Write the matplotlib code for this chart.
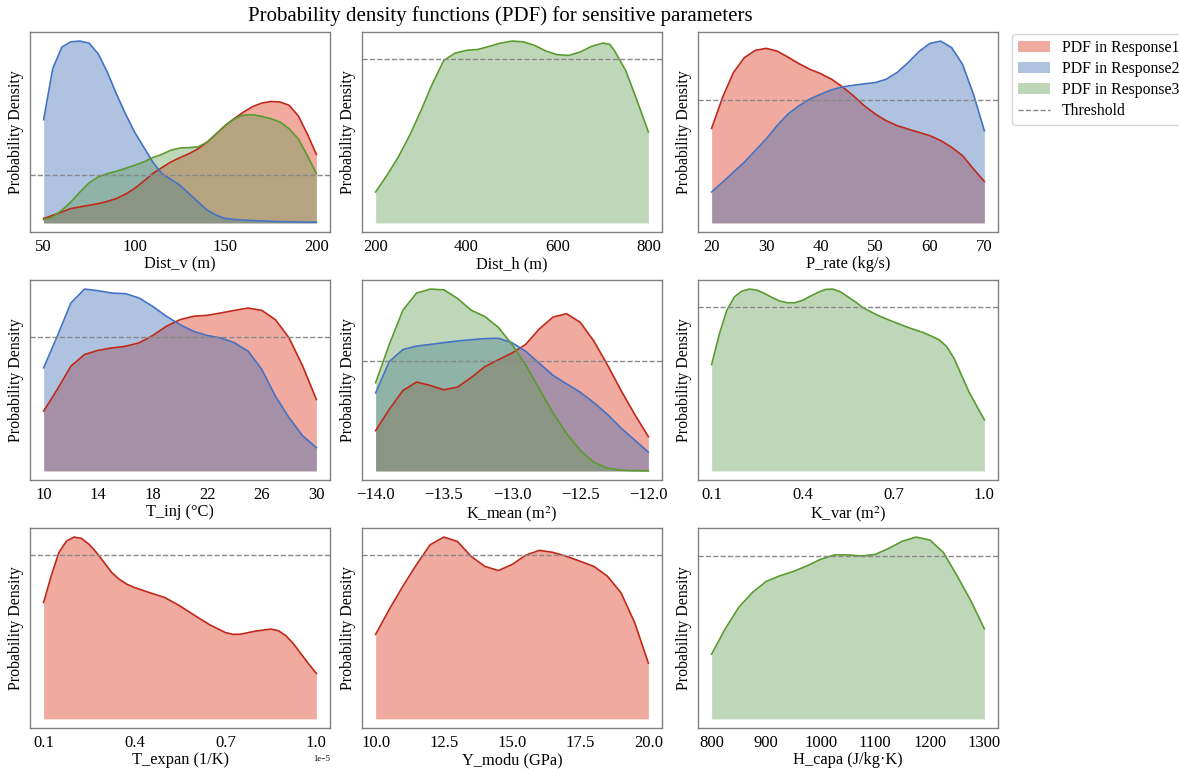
import numpy as np
import matplotlib
matplotlib.use("Agg")
import matplotlib.pyplot as plt
from matplotlib.patches import Patch
from matplotlib.lines import Line2D

plt.rcParams['font.family'] = ['Liberation Serif', 'DejaVu Serif']
plt.rcParams['mathtext.fontset'] = 'stix'

# ---- data (densities scaled so the highest curve of each panel is ~1) ----
dist_v_x = [50, 55, 60, 65, 70, 75, 80, 85, 90, 95, 100, 105, 110, 115, 120, 125,
            130, 135, 140, 145, 150, 155, 160, 165, 170, 175, 180, 185, 190, 195, 200]
dist_v_r1 = [0.024, 0.042, 0.06, 0.079, 0.088, 0.097, 0.106, 0.118, 0.134, 0.158, 0.189, 0.229,
             0.271, 0.304, 0.335, 0.359, 0.381, 0.408, 0.445, 0.49, 0.537, 0.575, 0.61, 0.64,
             0.659, 0.668, 0.665, 0.647, 0.59, 0.49, 0.377]
dist_v_r2 = [0.568, 0.848, 0.967, 0.996, 1.0, 0.989, 0.93, 0.83, 0.71, 0.60, 0.50, 0.418,
             0.335, 0.271, 0.24, 0.207, 0.161, 0.115, 0.07, 0.042, 0.024, 0.019, 0.015, 0.013,
             0.011, 0.009, 0.007, 0.006, 0.005, 0.004, 0.004]
dist_v_r3 = [0.018, 0.033, 0.07, 0.115, 0.17, 0.22, 0.253, 0.271, 0.284, 0.3, 0.317, 0.335,
             0.359, 0.377, 0.4, 0.412, 0.414, 0.418, 0.445, 0.49, 0.537, 0.573, 0.593, 0.595,
             0.586, 0.573, 0.555, 0.518, 0.463, 0.372, 0.271]

dist_h_x = [200, 225, 250, 275, 300, 325, 350, 375, 400, 425, 450, 475, 500, 525, 550,
            575, 600, 625, 650, 675, 700, 715, 725, 750, 775, 800]
dist_h_r3 = [0.17, 0.262, 0.363, 0.482, 0.619, 0.766, 0.894, 0.934, 0.949, 0.954, 0.971, 0.989,
             1.0, 0.996, 0.976, 0.945, 0.925, 0.921, 0.94, 0.971, 0.989, 0.982, 0.949, 0.839,
             0.674, 0.5]

p_rate_x = [20, 22, 24, 26, 28, 30, 32, 34, 36, 38, 40, 42, 44, 46, 48, 50, 52, 54, 56, 58,
            60, 62, 64, 66, 68, 70]
p_rate_r1 = [0.52, 0.69, 0.827, 0.909, 0.949, 0.96, 0.945, 0.912, 0.876, 0.845, 0.821, 0.79,
             0.748, 0.699, 0.644, 0.599, 0.562, 0.535, 0.516, 0.498, 0.48, 0.453, 0.416, 0.37,
             0.297, 0.228]
p_rate_r2 = [0.17, 0.224, 0.279, 0.334, 0.398, 0.462, 0.535, 0.599, 0.644, 0.681, 0.708, 0.732,
             0.748, 0.757, 0.765, 0.772, 0.79, 0.827, 0.881, 0.942, 0.987, 1.0, 0.964, 0.872,
             0.708, 0.507]

t_inj_x = [10, 11, 12, 13, 14, 15, 16, 17, 18, 19, 20, 21, 22, 23, 24, 25, 26, 27, 28, 29, 30]
t_inj_r1 = [0.328, 0.447, 0.575, 0.639, 0.662, 0.675, 0.684, 0.703, 0.743, 0.794, 0.83, 0.849,
            0.854, 0.867, 0.881, 0.894, 0.881, 0.83, 0.73, 0.575, 0.392]
t_inj_r2 = [0.566, 0.739, 0.922, 0.998, 0.989, 0.976, 0.973, 0.949, 0.903, 0.849, 0.803, 0.766,
            0.743, 0.73, 0.703, 0.657, 0.557, 0.41, 0.292, 0.192, 0.128]

k_mean_x = [-14.0, -13.9, -13.8, -13.7, -13.6, -13.5, -13.4, -13.3, -13.2, -13.1, -13.0,
            -12.9, -12.8, -12.7, -12.6, -12.5, -12.4, -12.3, -12.2, -12.1, -12.0]
k_mean_r1 = [0.221, 0.338, 0.441, 0.488, 0.469, 0.445, 0.46, 0.512, 0.572, 0.61, 0.647, 0.694,
             0.779, 0.844, 0.863, 0.816, 0.713, 0.582, 0.441, 0.31, 0.188]
k_mean_r2 = [0.428, 0.6, 0.666, 0.685, 0.694, 0.704, 0.713, 0.72, 0.726, 0.728, 0.704, 0.657,
             0.591, 0.525, 0.478, 0.432, 0.375, 0.31, 0.235, 0.169, 0.103]
k_mean_r3 = [0.484, 0.694, 0.882, 0.976, 0.998, 0.994, 0.947, 0.882, 0.848, 0.788, 0.694, 0.582,
             0.45, 0.319, 0.206, 0.113, 0.047, 0.015, 0.004, 0.001, 0.0]

k_var_x = [0.1, 0.125, 0.15, 0.175, 0.2, 0.225, 0.25, 0.275, 0.3, 0.325, 0.35, 0.375, 0.4,
           0.425, 0.45, 0.475, 0.5, 0.525, 0.55, 0.575, 0.6, 0.65, 0.7, 0.75, 0.8, 0.85,
           0.875, 0.9, 0.925, 0.95, 0.975, 1.0]
k_var_r3 = [0.585, 0.75, 0.882, 0.957, 0.989, 1.0, 0.994, 0.976, 0.953, 0.934, 0.925, 0.925,
            0.938, 0.96, 0.981, 0.998, 1.0, 0.985, 0.957, 0.929, 0.897, 0.854, 0.82, 0.788,
            0.76, 0.722, 0.685, 0.619, 0.525, 0.432, 0.356, 0.281]

t_expan_x = [0.1, 0.125, 0.15, 0.175, 0.2, 0.225, 0.25, 0.275, 0.3, 0.325, 0.35, 0.375, 0.4,
             0.45, 0.5, 0.55, 0.6, 0.65, 0.7, 0.725, 0.75, 0.8, 0.85, 0.875, 0.9, 0.925,
             0.95, 0.975, 1.0]
t_expan_r1 = [0.639, 0.785, 0.912, 0.976, 0.998, 0.991, 0.958, 0.912, 0.858, 0.803, 0.766,
              0.739, 0.721, 0.693, 0.666, 0.62, 0.566, 0.515, 0.474, 0.464, 0.465, 0.482,
              0.493, 0.484, 0.456, 0.411, 0.356, 0.301, 0.25]

y_modu_x = [10.0, 10.5, 11.0, 11.5, 12.0, 12.5, 13.0, 13.5, 14.0, 14.5, 15.0, 15.5, 16.0,
            16.5, 17.0, 17.5, 18.0, 18.5, 19.0, 19.5, 20.0]
y_modu_r1 = [0.465, 0.602, 0.73, 0.849, 0.958, 1.0, 0.976, 0.894, 0.839, 0.816, 0.849, 0.9,
             0.927, 0.916, 0.894, 0.867, 0.839, 0.785, 0.693, 0.529, 0.307]

h_capa_x = [800, 825, 850, 875, 900, 925, 950, 975, 1000, 1025, 1050, 1075, 1100, 1125, 1150,
            1175, 1200, 1225, 1250, 1275, 1300]
h_capa_r3 = [0.356, 0.496, 0.615, 0.696, 0.756, 0.787, 0.811, 0.842, 0.878, 0.902, 0.902, 0.896,
             0.905, 0.938, 0.978, 1.0, 0.984, 0.915, 0.787, 0.651, 0.496]

thresholds = [0.262, 0.901, 0.675, 0.735, 0.604, 0.904, 0.9, 0.9, 0.896]
xlabels = ['Dist_v (m)', 'Dist_h (m)', 'P_rate (kg/s)', 'T_inj (°C)', 'K_mean (m$^2$)',
           'K_var (m$^2$)', 'T_expan (1/K)', 'Y_modu (GPa)', 'H_capa (J/kg·K)']
xticks = [[50, 100, 150, 200], [200, 400, 600, 800], [20, 30, 40, 50, 60, 70],
          [10, 14, 18, 22, 26, 30], [-14.0, -13.5, -13.0, -12.5, -12.0], [0.1, 0.4, 0.7, 1.0],
          [1e-6, 4e-6, 7e-6, 1e-5], [10.0, 12.5, 15.0, 17.5, 20.0],
          [800, 900, 1000, 1100, 1200, 1300]]

line_colors = ['#C0281A', '#4472C4', '#5A9A2E']
fill_colors = ['#DA2B12', '#396BB6', '#619D50']
labels = ['PDF in Response1', 'PDF in Response2', 'PDF in Response3']

panels = [
    (dist_v_x, [dist_v_r1, dist_v_r2, dist_v_r3]),
    (dist_h_x, [None, None, dist_h_r3]),
    (p_rate_x, [p_rate_r1, p_rate_r2, None]),
    (t_inj_x, [t_inj_r1, t_inj_r2, None]),
    (k_mean_x, [k_mean_r1, k_mean_r2, k_mean_r3]),
    (k_var_x, [None, None, k_var_r3]),
    (np.array(t_expan_x) * 1e-5, [t_expan_r1, None, None]),
    (y_modu_x, [y_modu_r1, None, None]),
    (h_capa_x, [None, None, h_capa_r3]),
]

W, H = 1179, 769
fig = plt.figure(figsize=(W / 100, H / 100), dpi=100)

col_left = [30, 362, 698]
row_top = [32, 280, 528]
ax_w, ax_h = 300, 200

for i, (x, series) in enumerate(panels):
    r, c = divmod(i, 3)
    ax = fig.add_axes([col_left[c] / W, 1 - (row_top[r] + ax_h) / H, ax_w / W, ax_h / H])
    for k, y in enumerate(series):
        if y is None:
            continue
        ax.fill_between(x, 0, y, color=fill_colors[k], alpha=0.4, linewidth=0)
        ax.plot(x, y, color=line_colors[k], linewidth=1.2)
    ax.axhline(thresholds[i], color='#888888', linestyle='--', linewidth=1)
    ax.set_xticks(xticks[i])
    ax.set_yticks([])
    ax.tick_params(axis='x', length=0, pad=5, labelsize=12)
    ax.set_xlabel(xlabels[i], fontsize=11.8, labelpad=1)
    ax.set_ylabel('Probability Density', fontsize=11.4, labelpad=4)
    ax.xaxis.get_offset_text().set_fontsize(6)
    for s in ax.spines.values():
        s.set_color('#808080')
        s.set_linewidth(1.0)

fig.text(0.424, 1 - 16 / H, 'Probability density functions (PDF) for sensitive parameters',
         ha='center', va='center', fontsize=15)

handles = [Patch(facecolor=fill_colors[k], alpha=0.4, edgecolor='none', label=labels[k])
           for k in range(3)]
handles.append(Line2D([0], [0], color='#888888', linestyle='--', linewidth=1, label='Threshold'))
fig.legend(handles=handles, loc='upper left', bbox_to_anchor=(1004 / W, 1 - 26 / H),
           fontsize=11.3, labelspacing=0.32, frameon=True)

fig.savefig('out.png', dpi=100)
